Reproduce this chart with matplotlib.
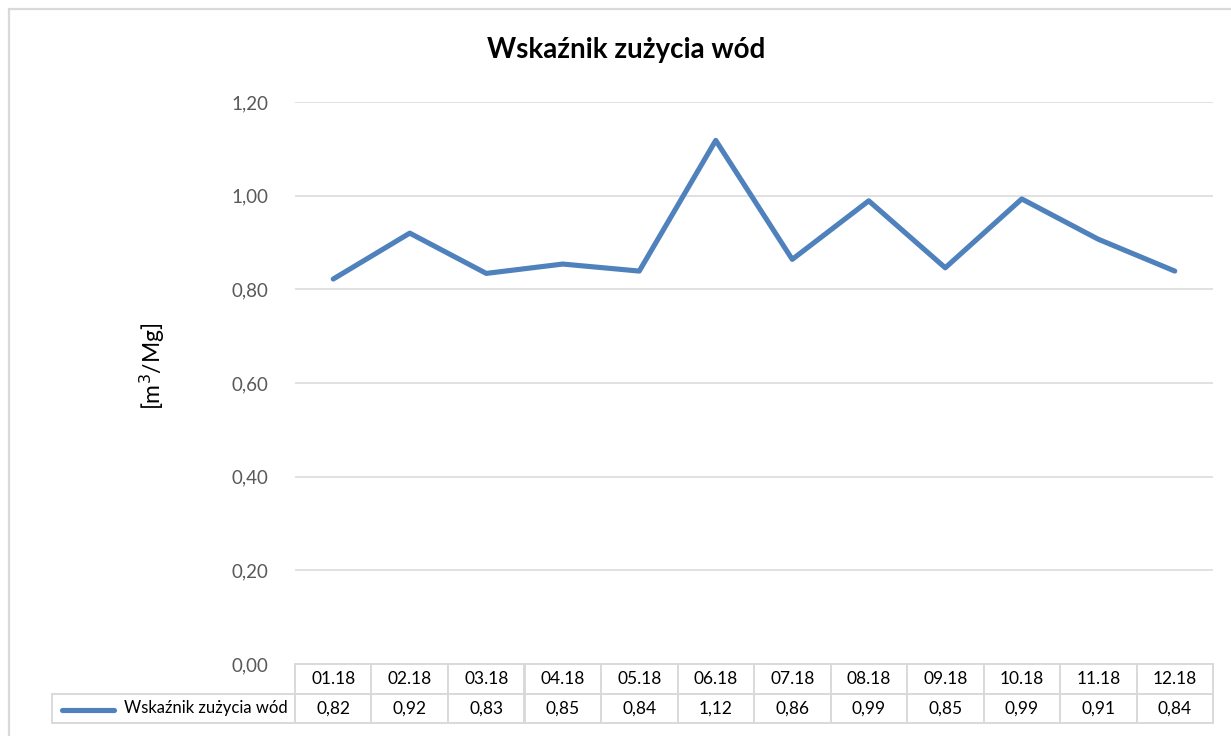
import matplotlib
matplotlib.use("Agg")
import matplotlib.pyplot as plt
from matplotlib.lines import Line2D
from matplotlib.patches import Rectangle

plt.rcParams.update({
    "font.family": ["Lato", "DejaVu Sans"],
})

months = ["01.18", "02.18", "03.18", "04.18", "05.18", "06.18",
          "07.18", "08.18", "09.18", "10.18", "11.18", "12.18"]
values = [0.822, 0.920, 0.834, 0.854, 0.839, 1.118,
          0.864, 0.989, 0.846, 0.993, 0.907, 0.839]
series_name = "Wskaźnik zużycia wód"
yticks = [0.0, 0.2, 0.4, 0.6, 0.8, 1.0, 1.2]

W, H = 1231, 736
line_color = "#4f81bd"
grid_color = "#d9d9d9"

fig = plt.figure(figsize=(W / 100, H / 100), dpi=100)

# chart area border (light gray, only left and top visible)
fig.patches.append(Rectangle((9 / W, -0.05), 1.2, 1 - 9 / H + 0.05,
                             transform=fig.transFigure, fill=False,
                             edgecolor=grid_color, lw=1.6))

ax_left, ax_right = 295 / W, 1213 / W
ax_bottom, ax_top = 1 - 664 / H, 1 - 102 / H
ax = fig.add_axes([ax_left, ax_bottom, ax_right - ax_left, ax_top - ax_bottom])

x = list(range(len(months)))
ax.plot(x, values, color=line_color, lw=3.7, solid_joinstyle="round",
        solid_capstyle="round", zorder=3)

ax.set_xlim(-0.5, len(months) - 0.5)
ax.set_ylim(0, 1.2)
ax.set_yticks(yticks)
ax.set_yticklabels([f"{t:.2f}".replace(".", ",") for t in yticks],
                   fontsize=13.5, color="#595959")
ax.tick_params(axis="y", length=0, pad=19)
ax.set_xticks([])
ax.grid(axis="y", color=grid_color, lw=1.1)
ax.set_axisbelow(True)
for s in ax.spines.values():
    s.set_visible(False)

ax.set_title("Wskaźnik zużycia wód", fontsize=20, fontweight="bold",
             color="black", pad=0, x=(626 / W - ax_left) / (ax_right - ax_left),
             y=(1 - 50 / H - ax_bottom) / (ax_top - ax_bottom), va="center")

fig.text(152 / W, 1 - 366 / H, "[m$^3$/Mg]", rotation=90, fontsize=16.5,
         ha="center", va="center", color="black")

# data table under the plot
ax_w_px = 1213 - 295
ax_h_px = 664 - 102
label_w = 295 - 52
col_w = ax_w_px / len(months)
cell_text = [[""] + months,
             [series_name] + [f"{v:.2f}".replace(".", ",") for v in values]]
col_widths = [label_w] + [col_w] * len(months)
tbl = ax.table(cellText=cell_text, colWidths=col_widths, cellLoc="center",
               bbox=[-label_w / ax_w_px, -(723 - 664) / ax_h_px,
                     (1213 - 52) / ax_w_px, (723 - 664) / ax_h_px])
tbl.auto_set_font_size(False)
for (r, c), cell in tbl.get_celld().items():
    cell.set_edgecolor(grid_color)
    cell.set_linewidth(1.4)
    cell.get_text().set_fontsize(12.5)
    cell.get_text().set_color("black")
    if c == 0 and r == 0:
        cell.visible_edges = ""
    if c == 0 and r == 1:
        cell.get_text().set_fontsize(12)
        cell.get_text().set_ha("right")
        cell._loc = "right"
        cell.PAD = 0.03

# legend key in the table
fig.add_artist(Line2D([62 / W, 114 / W], [1 - 710 / H, 1 - 710 / H],
                      color=line_color, lw=3.7, solid_capstyle="round"))

fig.savefig("out.png", dpi=100)
